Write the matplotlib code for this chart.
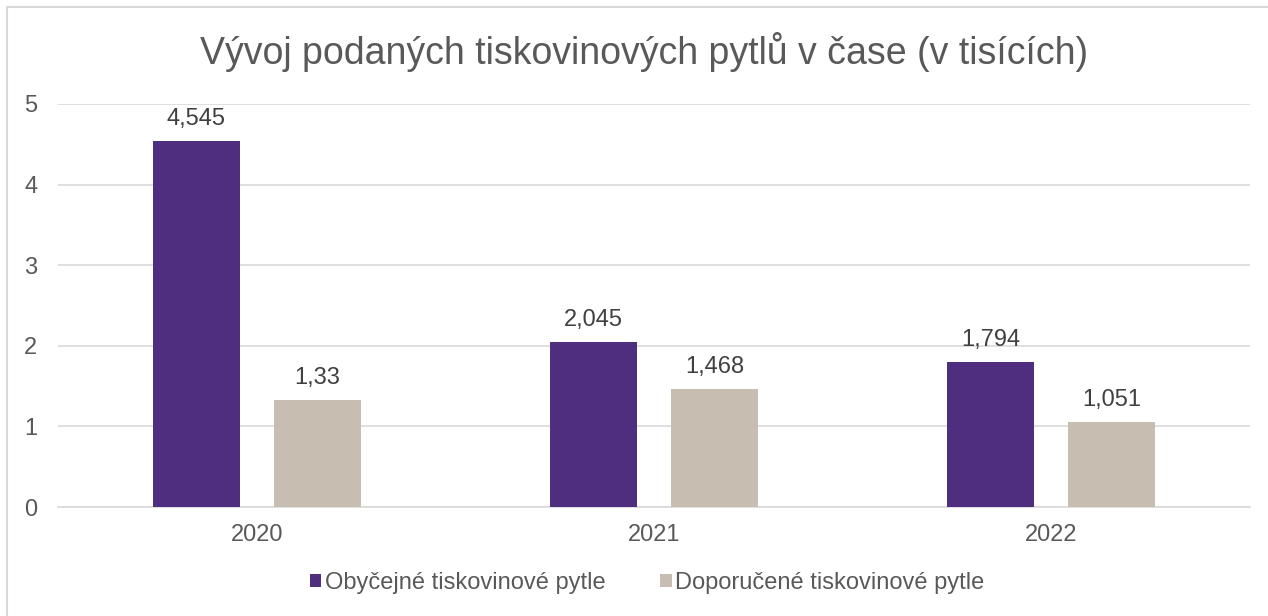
import numpy as np
import matplotlib.pyplot as plt
from matplotlib.patches import Rectangle

years = ["2020", "2021", "2022"]
obycejne = [4.545, 2.045, 1.794]
doporucene = [1.33, 1.468, 1.051]
obycejne_labels = ["4,545", "2,045", "1,794"]
doporucene_labels = ["1,33", "1,468", "1,051"]
series_names = ["Obyčejné tiskovinové pytle", "Doporučené tiskovinové pytle"]

purple = "#4f2d7f"
beige = "#c7bdb0"
text_col = "#595959"
grid_col = "#d9d9d9"

plt.rcParams["font.family"] = ["Liberation Sans", "DejaVu Sans"]

fig = plt.figure(figsize=(12.68, 6.16), dpi=100)
ax = fig.add_axes([58 / 1268, 1 - 507 / 616, 1192 / 1268, 403 / 616])

x = np.arange(len(years))
w = 0.219
off = 0.152
b1 = ax.bar(x - off, obycejne, w, color=purple, label=series_names[0], zorder=3)
b2 = ax.bar(x + off, doporucene, w, color=beige, label=series_names[1], zorder=3)

for bars, labels in ((b1, obycejne_labels), (b2, doporucene_labels)):
    for rect, lab in zip(bars, labels):
        ax.annotate(lab, (rect.get_x() + rect.get_width() / 2, rect.get_height()),
                    xytext=(0, 8), textcoords="offset points",
                    ha="center", va="bottom", fontsize=17, color="#404040")

ax.set_xlim(-0.5, 2.5)
ax.set_ylim(0, 5)
ax.set_yticks(range(6))
ax.set_xticks(x)
ax.set_xticklabels(years)
ax.tick_params(axis="both", length=0, labelsize=17, colors=text_col)
ax.tick_params(axis="y", pad=15)
ax.tick_params(axis="x", pad=12)
ax.yaxis.grid(True, color=grid_col, linewidth=1.2, zorder=0)
for s in ["top", "right", "left"]:
    ax.spines[s].set_visible(False)
ax.spines["bottom"].set_color(grid_col)
ax.spines["bottom"].set_linewidth(1.2)

fig.text(644 / 1268, 1 - 52 / 616, "Vývoj podaných tiskovinových pytlů v čase (v tisících)",
         ha="center", va="center", fontsize=27, color=text_col)

fig.legend(loc="center", bbox_to_anchor=(647 / 1268, 1 - 583 / 616), ncol=2, frameon=False,
           fontsize=17, handlelength=0.5, handleheight=0.5, handletextpad=0.15,
           columnspacing=2.3, labelcolor=text_col)

fig.patches.append(Rectangle((7 / 1268, -0.05), 1.1, 1 - 7 / 616 + 0.05,
                             transform=fig.transFigure, fill=False,
                             edgecolor=grid_col, linewidth=1.5))

fig.savefig("out.png", dpi=100)
